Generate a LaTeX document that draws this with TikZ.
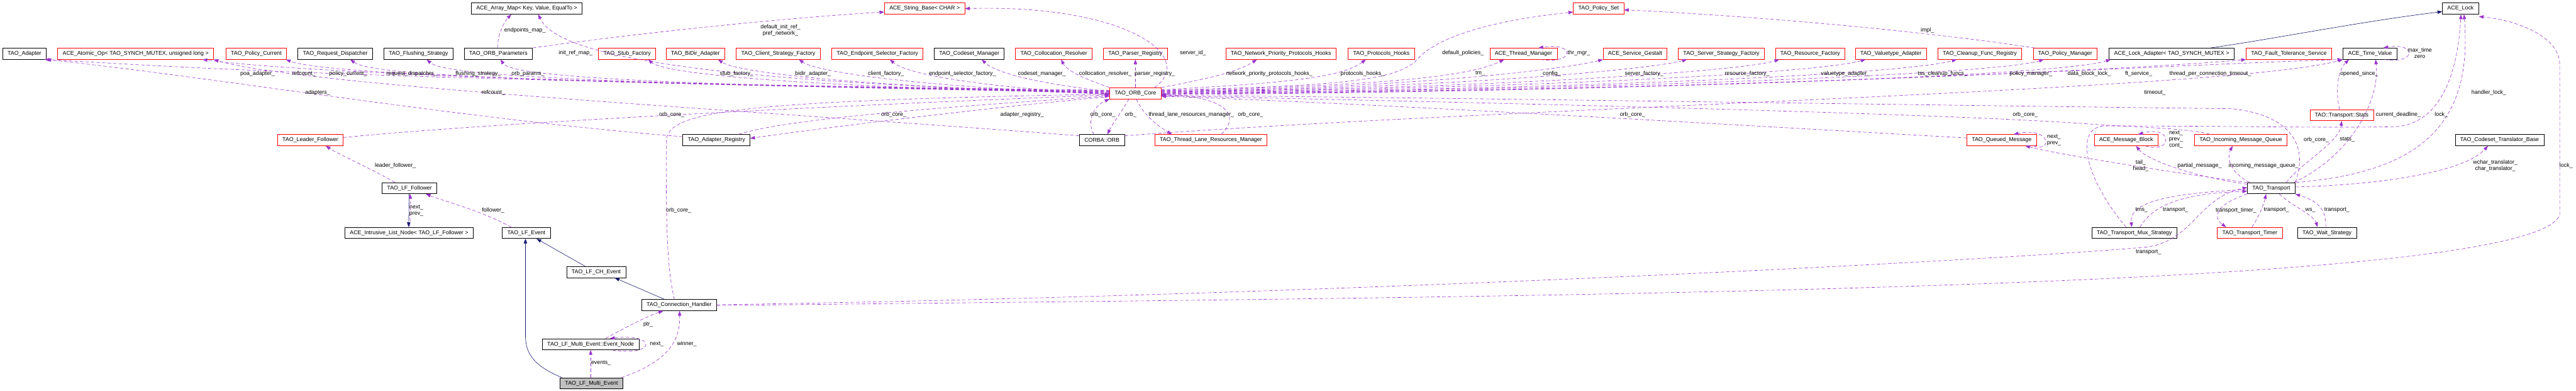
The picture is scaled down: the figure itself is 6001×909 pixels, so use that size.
\documentclass[tikz,border=0pt]{standalone}
\usepackage{fontspec}
\setmainfont{Liberation Sans}
\usetikzlibrary{arrows.meta}
\definecolor{memberedge}{RGB}{154,50,205}
\definecolor{baseedge}{RGB}{25,25,112}
\definecolor{undocbox}{RGB}{255,0,0}
\definecolor{thisbox}{RGB}{191,191,191}
\tikzset{
  cls/.style={draw=black, fill=white, line width=1pt, inner xsep=11.5pt, inner ysep=0pt,
    minimum height=26pt, font=\fontsize{13}{15}\selectfont},
  undoc/.style={cls, draw=undocbox},
  focus/.style={cls, fill=thisbox},
  lbl/.style={inner sep=0pt, align=center, font=\fontsize{13}{14.5}\selectfont},
  mem/.style={draw=memberedge, line width=0.9pt, dash pattern=on 8pt off 5pt,
    -{Triangle[length=11pt,width=8pt]}},
  inh/.style={draw=baseedge, line width=0.9pt, -{Triangle[length=11pt,width=8pt]}},
}
\begin{document}
\begin{tikzpicture}[x=1pt,y=-1pt]
\useasboundingbox (0,0) rectangle (6001,909);

% top row
\node[cls] (adapter) at (57,125) {TAO\_Adapter};
\node[undoc] (atomicop) at (316,125) {ACE\_Atomic\_Op< TAO\_SYNCH\_MUTEX, unsigned long >};
\node[undoc] (policycur) at (597,125) {TAO\_Policy\_Current};
\node[cls] (reqdisp) at (781,125) {TAO\_Request\_Dispatcher};
\node[cls] (flushing) at (975,125) {TAO\_Flushing\_Strategy};
\node[cls] (orbparams) at (1161,125) {TAO\_ORB\_Parameters};
\node[cls] (arraymap) at (1227,20) {ACE\_Array\_Map< Key, Value, EqualTo >};
\node[undoc] (stubfac) at (1461,125) {TAO\_Stub\_Factory};
\node[undoc] (bidir) at (1620,125) {TAO\_BiDir\_Adapter};
\node[undoc] (clientfac) at (1813,125) {TAO\_Client\_Strategy\_Factory};
\node[undoc] (endpointsel) at (2044,125) {TAO\_Endpoint\_Selector\_Factory};
\node[undoc] (stringbase) at (2154,20) {ACE\_String\_Base< CHAR >};
\node[cls] (codeset) at (2258,125) {TAO\_Codeset\_Manager};
\node[undoc] (colloc) at (2455,125) {TAO\_Collocation\_Resolver};
\node[undoc] (parserreg) at (2645,125) {TAO\_Parser\_Registry};
\node[undoc] (netprio) at (2984,125) {TAO\_Network\_Priority\_Protocols\_Hooks};
\node[undoc] (protohooks) at (3218,125) {TAO\_Protocols\_Hooks};
\node[undoc] (policyset) at (3724,20) {TAO\_Policy\_Set};
\node[undoc] (thrmgr) at (3549,125) {ACE\_Thread\_Manager};
\node[undoc] (gestalt) at (3809,125) {ACE\_Service\_Gestalt};
\node[undoc] (serverfac) at (4010,125) {TAO\_Server\_Strategy\_Factory};
\node[undoc] (resfac) at (4217,125) {TAO\_Resource\_Factory};
\node[undoc] (valuetype) at (4405,125) {TAO\_Valuetype\_Adapter};
\node[undoc] (cleanup) at (4612,125) {TAO\_Cleanup\_Func\_Registry};
\node[undoc] (policymgr) at (4811,125) {TAO\_Policy\_Manager};
\node[cls] (lockadapter) at (5059,125) {ACE\_Lock\_Adapter< TAO\_SYNCH\_MUTEX >};
\node[undoc] (ftservice) at (5332,125) {TAO\_Fault\_Tolerance\_Service};
\node[cls] (timevalue) at (5521,125) {ACE\_Time\_Value};
\node[cls] (acelock) at (5732,20) {ACE\_Lock};

% middle
\node[undoc] (orbcore) at (2645,217) {TAO\_ORB\_Core};
\node[undoc] (leaderf) at (723,326) {TAO\_Leader\_Follower};
\node[cls] (adapterreg) at (1669,326) {TAO\_Adapter\_Registry};
\node[cls] (corbaorb) at (2567,326) {CORBA::ORB};
\node[undoc] (tlrm) at (2821,326) {TAO\_Thread\_Lane\_Resources\_Manager};
\node[undoc] (queuedmsg) at (4663,326) {TAO\_Queued\_Message};
\node[undoc] (msgblock) at (4953,326) {ACE\_Message\_Block};
\node[undoc] (incoming) at (5220,326) {TAO\_Incoming\_Message\_Queue};
\node[undoc] (stats) at (5455,268) {TAO::Transport::Stats};
\node[cls] (cstrans) at (5823,326) {TAO\_Codeset\_Translator\_Base};

% bottom
\node[cls] (lffollower) at (954,438) {TAO\_LF\_Follower};
\node[cls] (transport) at (5291,438) {TAO\_Transport};
\node[cls] (listnode) at (953,542) {ACE\_Intrusive\_List\_Node< TAO\_LF\_Follower >};
\node[cls] (lfevent) at (1226,542) {TAO\_LF\_Event};
\node[cls] (tms) at (4972,542) {TAO\_Transport\_Mux\_Strategy};
\node[undoc] (ttimer) at (5241,542) {TAO\_Transport\_Timer};
\node[cls] (waitstr) at (5421,542) {TAO\_Wait\_Strategy};
\node[cls] (lfch) at (1389,633) {TAO\_LF\_CH\_Event};
\node[cls] (connh) at (1582,710) {TAO\_Connection\_Handler};
\node[cls] (eventnode) at (1376,801) {TAO\_LF\_Multi\_Event::Event\_Node};
\node[focus] (multievent) at (1378,892) {TAO\_LF\_Multi\_Event};

% inheritance
\draw[inh] ([xshift=-55pt]lockadapter.north east) .. controls (5300,90) and (5500,50) .. ([yshift=-7pt]acelock.west);
\draw[inh] ([xshift=-1pt]lffollower.south) -- ([xshift=-1pt]listnode.north);
\draw[inh] ([xshift=-26pt]lfch.north) -- ([xshift=24pt]lfevent.south);
\draw[inh] ([xshift=-34pt]connh.north) -- ([xshift=43pt]lfch.south);
\draw[inh] ([xshift=-69pt]multievent.north) .. controls (1240,850) and (1224,820) .. (1224,780) -- ([xshift=-2pt]lfevent.south);

% ORB core, left fan
\draw[mem] ([yshift=7pt]orbcore.west) .. controls (800,188) and (330,150) .. ([xshift=-4pt]adapter.south east);
\draw[mem] ([yshift=6pt]orbcore.west) .. controls (900,190) and (560,150) .. ([xshift=156pt]atomicop.south);
\draw[mem] ([yshift=5pt]orbcore.west) .. controls (1000,192) and (720,160) .. ([xshift=-2pt]policycur.south east);
\draw[mem] ([yshift=4pt]orbcore.west) .. controls (1100,192) and (860,170) .. ([xshift=35pt]reqdisp.south);
\draw[mem] ([yshift=3pt]orbcore.west) .. controls (1250,195) and (1030,170) .. ([xshift=19pt]flushing.south);
\draw[mem] ([yshift=2pt]orbcore.west) .. controls (1450,198) and (1190,175) .. ([xshift=5pt]orbparams.south);
\draw[mem] ([yshift=1pt]orbcore.west) .. controls (1500,190) and (1290,110) .. ([xshift=27pt]arraymap.south);
\draw[mem] (orbcore.west) .. controls (1750,200) and (1540,165) .. ([xshift=49pt]stubfac.south);
\draw[mem] ([yshift=-1pt]orbcore.west) .. controls (1950,200) and (1710,165) .. ([xshift=53pt]bidir.south);
\draw[mem] ([yshift=-2pt]orbcore.west) .. controls (2100,200) and (1900,165) .. ([xshift=48pt]clientfac.south);
\draw[mem] ([yshift=-3pt]orbcore.west) .. controls (2250,200) and (2110,170) .. ([xshift=29pt]endpointsel.south);
\draw[mem] ([yshift=4pt]orbcore.west) .. controls (2420,195) and (2320,170) .. ([xshift=29pt]codeset.south);
\draw[mem] (orbcore.north west) .. controls (2530,185) and (2485,165) .. ([xshift=17pt]colloc.south);
\draw[mem] (orbcore.north) -- (parserreg.south);
\draw[mem] ([xshift=45pt]orbcore.north) .. controls (2790,130) and (2620,10) .. (stringbase.east);

% ORB core, right fan
\draw[mem] (orbcore.north east) .. controls (2780,190) and (2880,170) .. ([xshift=-56pt]netprio.south);
\draw[mem] ([yshift=8pt]orbcore.east) .. controls (2950,195) and (3120,185) .. ([xshift=-36pt]protohooks.south);
\draw[mem] ([yshift=7pt]orbcore.east) .. controls (3100,200) and (3250,190) .. (3300,140) .. controls (3350,80) and (3500,45) .. ([yshift=-8pt]policyset.west);
\draw[mem] ([yshift=6pt]orbcore.east) .. controls (3200,200) and (3420,180) .. ([xshift=-45pt]thrmgr.south);
\draw[mem] ([yshift=5pt]orbcore.east) .. controls (3300,205) and (3650,160) .. (gestalt.south west);
\draw[mem] ([yshift=4pt]orbcore.east) .. controls (3400,205) and (3850,160) .. ([xshift=-80pt]serverfac.south);
\draw[mem] ([yshift=3pt]orbcore.east) .. controls (3500,205) and (4060,165) .. ([xshift=-72pt]resfac.south);
\draw[mem] ([yshift=2pt]orbcore.east) .. controls (3600,205) and (4230,170) .. ([xshift=-59pt]valuetype.south);
\draw[mem] ([yshift=1pt]orbcore.east) .. controls (3700,208) and (4440,172) .. ([xshift=-54pt]cleanup.south);
\draw[mem] (orbcore.east) .. controls (3800,208) and (4650,172) .. ([xshift=-50pt]policymgr.south);
\draw[mem] ([yshift=-1pt]orbcore.east) .. controls (3900,210) and (4800,175) .. ([xshift=-142pt]lockadapter.south);
\draw[mem] ([yshift=-2pt]orbcore.east) .. controls (4000,210) and (5000,160) .. (ftservice.south west);
\draw[mem] ([yshift=-3pt]orbcore.east) .. controls (4100,212) and (5050,150) .. ([xshift=-2pt]timevalue.south west);

% ORB core, below
\draw[mem] ([yshift=6pt]leaderf.east) .. controls (1200,280) and (2200,235) .. ([yshift=-4pt]orbcore.west);
\draw[mem] ([xshift=52pt]adapterreg.north) .. controls (1850,270) and (2350,240) .. ([yshift=-6pt]orbcore.west);
\draw[mem] ([yshift=-8pt]orbcore.west) .. controls (2300,250) and (1900,300) .. ([yshift=4pt]adapterreg.east);
\draw[mem] ([xshift=-19pt]corbaorb.north) .. controls (2530,280) and (2550,245) .. (orbcore.south west);
\draw[mem] ([xshift=-15pt]orbcore.south) .. controls (2610,265) and (2590,290) .. ([xshift=13pt]corbaorb.north);
\draw[mem] ([xshift=2pt]orbcore.south) .. controls (2665,270) and (2700,295) .. ([xshift=-91pt]tlrm.north);
\draw[mem] ([xshift=24pt]tlrm.north) .. controls (2890,270) and (2860,225) .. ([yshift=-3pt]orbcore.east);
\draw[mem] ([yshift=5pt]queuedmsg.west) .. controls (4200,300) and (3200,240) .. ([yshift=-7pt]orbcore.east);
\draw[mem] ([xshift=-72pt]incoming.north) .. controls (5100,298) and (4950,295) .. (4860,288) .. controls (4500,262) and (3300,235) .. ([yshift=-6pt]orbcore.east);
\draw[mem] (transport.north east) .. controls (5375,350) and (5350,270) .. (5200,253) .. controls (4500,245) and (3200,225) .. ([yshift=-5pt]orbcore.east);
\draw[mem] ([xshift=-11pt]connh.north) .. controls (1552,620) and (1552,500) .. (1552,330) .. controls (1552,260) and (1700,235) .. ([yshift=-2pt]orbcore.west);

% other top-row members
\draw[mem] ([yshift=8pt]adapterreg.west) .. controls (1100,280) and (500,180) .. (adapter.south east);
\draw[mem] ([yshift=10pt]corbaorb.west) .. controls (1800,260) and (700,200) .. (atomicop.south east);
\draw[mem] ([yshift=10pt]corbaorb.east) .. controls (3500,250) and (5200,210) .. (timevalue.south west);
\draw[mem] ([xshift=80pt]orbparams.north) .. controls (1500,75) and (1850,40) .. ([yshift=-8pt]stringbase.west);
\draw[mem] ([xshift=-2pt]orbparams.north) .. controls (1159,80) and (1175,50) .. ([xshift=-36pt]arraymap.south);
\draw[mem] ([xshift=-71pt]policymgr.north) .. controls (4400,60) and (3950,30) .. ([yshift=-3pt]policyset.east);
\draw[mem] ([xshift=40pt]thrmgr.south) .. controls (3670,150) and (3670,98) .. ([xshift=35pt]thrmgr.north);
\draw[mem] ([xshift=34pt]timevalue.south) .. controls (5630,150) and (5630,98) .. ([xshift=31pt]timevalue.north);
\draw[mem] ([xshift=-5pt]stats.north) .. controls (5438,200) and (5450,160) .. ([xshift=-49pt]timevalue.south);

% transport
\draw[mem] ([xshift=53pt]transport.north) .. controls (5480,360) and (5545,230) .. ([xshift=13pt]timevalue.south);
\draw[mem] ([xshift=58pt]transport.north) .. controls (5650,400) and (5760,280) .. ([xshift=8pt]acelock.south);
\draw[mem] ([xshift=-19pt]tms.north) .. controls (4860,420) and (4830,300) .. (4900,293) .. controls (5200,293) and (5400,298) .. (5574,295) .. controls (5680,293) and (5725,180) .. ([xshift=1pt]acelock.south);
\draw[mem] (transport.north west) .. controls (5050,400) and (4800,360) .. ([xshift=55pt]queuedmsg.south);
\draw[mem] ([yshift=-4pt]transport.north west) .. controls (5100,410) and (5000,370) .. ([xshift=23pt]msgblock.south);
\draw[mem] ([xshift=6pt]transport.north west) .. controls (5200,405) and (5185,370) .. ([xshift=-19pt]incoming.south);
\draw[mem] ([xshift=35pt]transport.north) .. controls (5360,380) and (5450,330) .. (stats.south);
\draw[mem] ([yshift=3pt]transport.east) .. controls (5550,430) and (5740,400) .. ([xshift=-27pt]cstrans.south);
\draw[mem] ([yshift=-3pt]transport.west) .. controls (5050,450) and (4960,470) .. ([xshift=-6pt]tms.north);
\draw[mem] ([xshift=13pt]tms.north) .. controls (5020,470) and (5100,450) .. ([yshift=-7pt]transport.west);
\draw[mem] (transport.south west) .. controls (5150,480) and (5160,510) .. ([xshift=-55pt]ttimer.north);
\draw[mem] ([xshift=5pt]ttimer.north) .. controls (5265,500) and (5275,470) .. ([xshift=-12pt]transport.south);
\draw[mem] ([xshift=19pt]transport.south) .. controls (5340,480) and (5390,500) .. ([xshift=-22pt]waitstr.north);
\draw[mem] ([xshift=-3pt]waitstr.north) .. controls (5420,480) and (5390,465) .. (transport.south east);
\draw[mem] ([xshift=45pt]msgblock.south) .. controls (5060,360) and (5065,290) .. ([xshift=28pt]msgblock.north);
\draw[mem] ([xshift=75pt]queuedmsg.south) .. controls (4780,355) and (4780,295) .. ([xshift=28pt]queuedmsg.north);

% leader/follower side
\draw[mem] ([xshift=-34pt]lffollower.north) .. controls (860,390) and (790,360) .. ([xshift=36pt]leaderf.south);
\draw[mem] ([xshift=-35pt]lfevent.north) .. controls (1120,490) and (1040,470) .. ([xshift=38pt]lffollower.south);
\draw[mem] ([xshift=2pt]listnode.north) -- ([xshift=2pt]lffollower.south);
\draw[mem] ([xshift=-2pt]multievent.north) -- (eventnode.south);
\draw[mem] ([xshift=70pt]multievent.north) .. controls (1560,840) and (1585,790) .. ([xshift=1pt]connh.south);
\draw[mem] ([xshift=35pt]eventnode.north) .. controls (1460,760) and (1510,735) .. ([xshift=-37pt]connh.south);
\draw[mem] ([xshift=50pt]eventnode.south) .. controls (1530,830) and (1530,775) .. ([xshift=45pt]eventnode.north);
\draw[mem] ([yshift=1pt]connh.east) .. controls (3000,690) and (4600,610) .. (5000,575) .. controls (5110,560) and (5120,460) .. ([yshift=2pt]transport.west);
\draw[mem] ([yshift=-1pt]connh.east) .. controls (3500,690) and (5900,680) .. (5963,500) -- (5963,150) .. controls (5963,80) and (5850,45) .. ([yshift=-5pt]acelock.south east);

% labels
\node[lbl] (l1) at (600,171) {poa\_adapter\_};
\node[lbl] (l2) at (708,171) {refcount\_};
\node[lbl] (l3) at (811,171) {policy\_current\_};
\node[lbl] (l4) at (959,171) {request\_dispatcher\_};
\node[lbl] (l5) at (1114,171) {flushing\_strategy\_};
\node[lbl] (l6) at (1230,171) {orb\_params\_};
\node[lbl] (l7) at (740,216) {adapters\_};
\node[lbl] (l8) at (921,385) {leader\_follower\_};
\node[lbl] (l9) at (1223,71) {endpoints\_map\_};
\node[lbl] (l10) at (1818,71) {default\_init\_ref\_\\pref\_network\_};
\node[lbl] (l11) at (1341,124) {init\_ref\_map\_};
\node[lbl] (l12) at (1716,171) {stub\_factory\_};
\node[lbl] (l13) at (1894,171) {bidir\_adapter\_};
\node[lbl] (l14) at (1149,216) {refcount\_};
\node[lbl] (l15) at (1565,267) {orb\_core\_};
\node[lbl] (l16) at (2779,124) {server\_id\_};
\node[lbl] (l17) at (2064,171) {client\_factory\_};
\node[lbl] (l18) at (2242,171) {endpoint\_selector\_factory\_};
\node[lbl] (l19) at (2427,171) {codeset\_manager\_};
\node[lbl] (l20) at (2575,171) {collocation\_resolver\_};
\node[lbl] (l21) at (2690,171) {parser\_registry\_};
\node[lbl] (l22) at (2957,171) {network\_priority\_protocols\_hooks\_};
\node[lbl] (l23) at (2082,267) {orb\_core\_};
\node[lbl] (l24) at (2381,267) {adapter\_registry\_};
\node[lbl] (l25) at (2569,267) {orb\_core\_};
\node[lbl] (l26) at (2634,267) {orb\_};
\node[lbl] (l27) at (2775,267) {thread\_lane\_resources\_manager\_};
\node[lbl] (l28) at (2913,267) {orb\_core\_};
\node[lbl] (l29) at (3174,171) {protocols\_hooks\_};
\node[lbl] (l30) at (3408,124) {default\_policies\_};
\node[lbl] (l31) at (3678,124) {thr\_mgr\_};
\node[lbl] (l32) at (3448,171) {tm\_};
\node[lbl] (l33) at (3615,171) {config\_};
\node[lbl] (l34) at (3830,171) {server\_factory\_};
\node[lbl] (l35) at (3803,267) {orb\_core\_};
\node[lbl] (l36) at (4490,71) {impl\_};
\node[lbl] (l37) at (4070,171) {resource\_factory\_};
\node[lbl] (l38) at (4299,171) {valuetype\_adapter\_};
\node[lbl] (l39) at (4525,171) {tss\_cleanup\_funcs\_};
\node[lbl] (l40) at (4731,171) {policy\_manager\_};
\node[lbl] (l41) at (4867,171) {data\_block\_lock\_};
\node[lbl] (l42) at (4982,171) {ft\_service\_};
\node[lbl] (l43) at (4718,267) {orb\_core\_};
\node[lbl] (l44) at (4785,326) {next\_\\prev\_};
\node[lbl] (l45) at (4987,386) {tail\_\\head\_};
\node[lbl] (l46) at (5637,124) {max\_time\\zero};
\node[lbl] (l47) at (5149,171) {thread\_per\_connection\_timeout\_};
\node[lbl] (l48) at (5020,216) {timeout\_};
\node[lbl] (l49) at (5496,171) {opened\_since\_};
\node[lbl] (l50) at (5798,216) {handler\_lock\_};
\node[lbl] (l51) at (5587,267) {current\_deadline\_};
\node[lbl] (l52) at (5687,267) {lock\_};
\node[lbl] (l53) at (5069,325) {next\_\\prev\_\\cont\_};
\node[lbl] (l54) at (5396,325) {orb\_core\_};
\node[lbl] (l55) at (5468,325) {stats\_};
\node[lbl] (l56) at (5124,385) {partial\_message\_};
\node[lbl] (l57) at (5273,385) {incoming\_message\_queue\_};
\node[lbl] (l58) at (5813,386) {wchar\_translator\_\\char\_translator\_};
\node[lbl] (l59) at (5978,385) {lock\_};
\node[lbl] (l60) at (970,490) {next\_\\prev\_};
\node[lbl] (l61) at (1149,489) {follower\_};
\node[lbl] (l62) at (1581,489) {orb\_core\_};
\node[lbl] (l63) at (1510,755) {ptr\_};
\node[lbl] (l64) at (1530,800) {next\_};
\node[lbl] (l65) at (1600,800) {winner\_};
\node[lbl] (l66) at (1400,845) {events\_};
\node[lbl] (l67) at (4989,489) {tms\_};
\node[lbl] (l68) at (5068,489) {transport\_};
\node[lbl] (l69) at (5209,489) {transport\_timer\_};
\node[lbl] (l70) at (5303,489) {transport\_};
\node[lbl] (l71) at (5382,489) {ws\_};
\node[lbl] (l72) at (5444,489) {transport\_};
\node[lbl] (l73) at (5005,587) {transport\_};
\end{tikzpicture}
\end{document}
